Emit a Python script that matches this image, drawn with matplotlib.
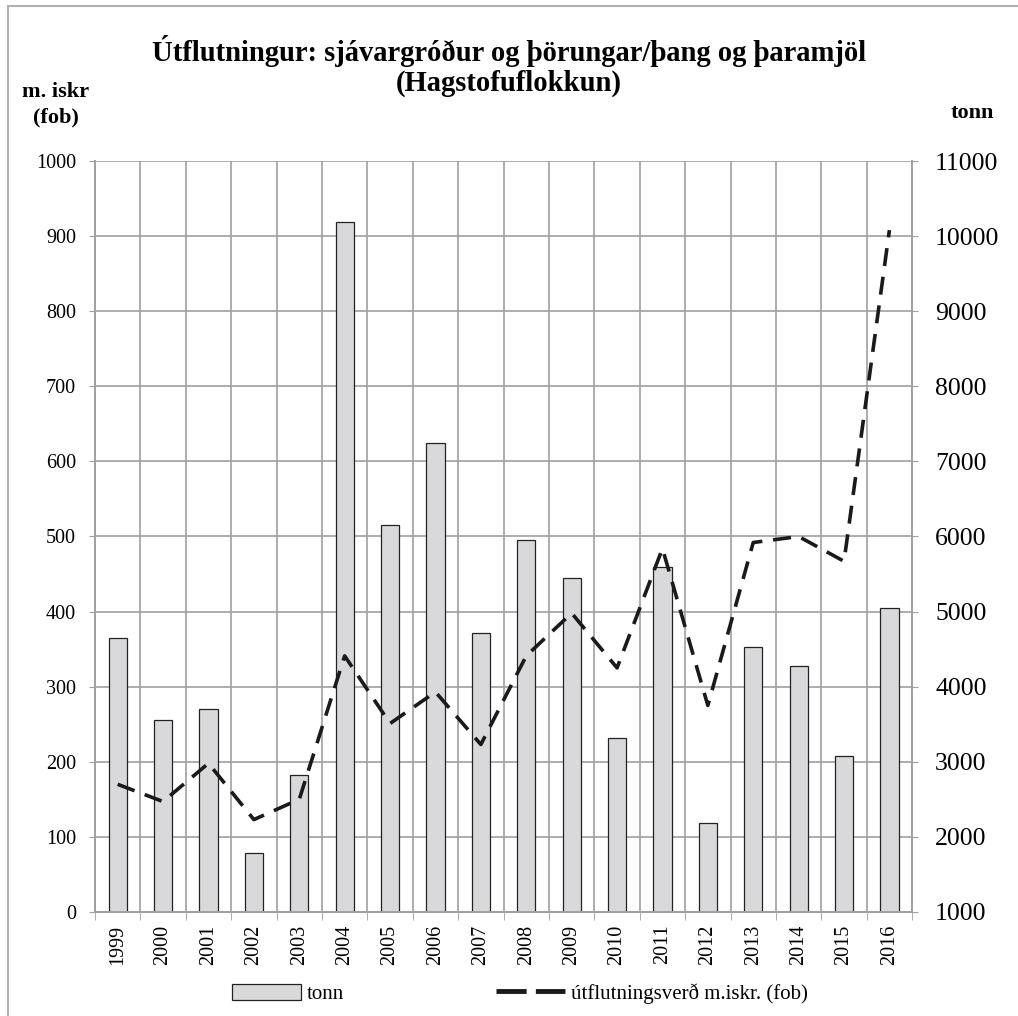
import numpy as np
import matplotlib
matplotlib.use('Agg')
import matplotlib.pyplot as plt
from matplotlib.patches import Rectangle

# ár
years = ['1999', '2000', '2001', '2002', '2003', '2004', '2005', '2006', '2007',
         '2008', '2009', '2010', '2011', '2012', '2013', '2014', '2015', '2016']
# tonn (hægri ás)
tonn = [4650, 3560, 3700, 1780, 2820, 10190, 6150, 7240, 4720,
        5950, 5450, 3310, 5600, 2190, 4530, 4270, 3080, 5050]
# útflutningsverð m.iskr. (vinstri ás)
verd = [170, 147, 198, 123, 150, 341, 251, 293, 223,
        341, 398, 325, 484, 275, 492, 500, 467, 908]

plt.rcParams['font.family'] = ['Liberation Serif', 'DejaVu Serif']

fig = plt.figure(figsize=(10.18, 10.16), dpi=100)
ax = fig.add_axes([0.0933, 0.1024, 0.8027, 0.7391])
ax2 = ax.twinx()
ax.set_zorder(ax2.get_zorder() + 1)
ax.patch.set_visible(False)

x = np.arange(len(years))
grid_c = '#a0a0a0'

# súlur á hægri ás
ax2.bar(x, tonn, width=0.4, color='#d9d9db', edgecolor='#222222', linewidth=0.9, zorder=3)
ax2.set_ylim(1000, 11000)
ax2.set_yticks(np.arange(1000, 11001, 1000))
ax2.tick_params(axis='y', labelsize=18.5, length=4.5, color=grid_c, pad=12)

# lína á vinstri ás
ax.plot(x, verd, color='#1a1a1a', lw=2.6, dashes=(5, 3), zorder=4)
ax.set_ylim(0, 1000)
ax.set_yticks(np.arange(0, 1001, 100))
ax.tick_params(axis='y', labelsize=14.5, length=4.5, color=grid_c, pad=9)
ax.set_xlim(-0.5, len(years) - 0.5)

# x-ás: merki á miðju, strik á mörkum
ax.set_xticks(x)
ax.set_xticklabels(years, rotation=90, fontsize=14.5)
ax.tick_params(axis='x', which='major', length=0, pad=9)
ax.set_xticks(np.arange(-0.5, len(years), 1), minor=True)
ax.tick_params(axis='x', which='minor', length=6, color=grid_c)

# grindarlínur
ax2.grid(False)
for yv in np.arange(100, 1001, 100):
    ax2.axhline(1000 + yv * 10, color=grid_c, lw=1.2, zorder=1)
for xv in np.arange(0.5, len(years) - 0.5, 1):
    ax2.axvline(xv, color=grid_c, lw=1.2, zorder=1)

for a in (ax, ax2):
    a.spines['top'].set_visible(False)
    for s in ('left', 'right', 'bottom'):
        a.spines[s].set_color(grid_c)
        a.spines[s].set_linewidth(1.4)

fig.text(0.5, 0.935, 'Útflutningur: sjávargróður og þörungar/þang og þaramjöl\n(Hagstofuflokkun)',
         ha='center', va='center', fontsize=20.6, fontweight='bold', linespacing=1.15)
fig.text(0.055, 0.897, 'm. iskr\n(fob)', ha='center', va='center', fontsize=16,
         fontweight='bold', linespacing=1.35)
fig.text(0.955, 0.889, 'tonn', ha='center', va='center', fontsize=16, fontweight='bold')

# skýring
h_bar = Rectangle((0, 0), 1, 1, facecolor='#d9d9db', edgecolor='#222222', linewidth=0.9)
h_line, = ax.plot([], [], color='#1a1a1a', lw=3.5, dashes=(6.2, 1.9))
fig.legend([h_bar, h_line], ['tonn', 'útflutningsverð m.iskr. (fob)'],
           loc='center', bbox_to_anchor=(0.511, 0.022), ncol=2, frameon=False,
           fontsize=15, handlelength=3.3, handleheight=0.8, handletextpad=0.3,
           columnspacing=7.3)

# rammi utan um
fig.patches.append(Rectangle((0.0074, -0.01), 1.2, 1.004, transform=fig.transFigure,
                             fill=False, edgecolor='#b0b0b0', linewidth=1.5))

fig.savefig('out.png', dpi=100)
